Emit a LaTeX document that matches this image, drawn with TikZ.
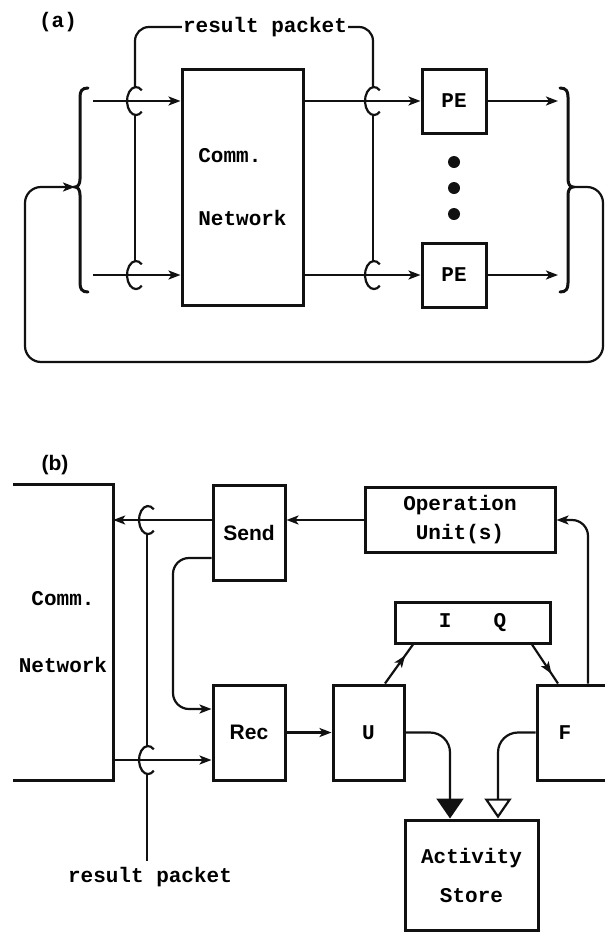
\documentclass[tikz,border=0pt]{standalone}
\usepackage{fontspec}
\setmonofont{Liberation Mono}
\setsansfont{Liberation Sans}
\usepackage{tikz}
\usetikzlibrary{arrows.meta,positioning,calc,decorations.markings}
\definecolor{ink}{HTML}{111111}

\tikzset{
  blk/.style={draw=ink,line width=3pt,inner sep=0pt},
  wire/.style={ink,line width=2.2pt},
  brace/.style={ink,line width=3pt,line cap=round},
  tip/.style={-{Stealth[length=12pt,width=9pt,inset=3pt]}},
  midtip/.style={postaction={decorate},decoration={markings,
      mark=at position #1 with {\arrow{Stealth[length=12pt,width=9pt,inset=3pt]}}}},
  sans/.style={font=\sffamily\bfseries\fontsize{21}{25}\selectfont}
}
% C-shaped jump of a wire over a line
\newcommand{\crossover}[1]{\draw[wire] ($(#1)+(6.8,-10.7)$)
  arc[start angle=50,end angle=310,x radius=9pt,y radius=14pt];}

\begin{document}
\begin{tikzpicture}[x=1pt,y=-1pt,font=\ttfamily\bfseries\fontsize{21}{25}\selectfont]
  \useasboundingbox (0,0) rectangle (605,932);

  % ---- (a) ----
  \node (la) at (58,22) {(a)};
  \node[blk,minimum width=121pt,minimum height=236pt,align=left] (net) at (242.5,187)
       {Comm.\\[38pt]Network};
  \node[blk,minimum size=64pt] (peA) at (454,101) {PE};
  \node[blk,minimum size=64pt] (peB) at (454,275) {PE};
  \foreach \y in {162,188,214} \fill[ink] (454,\y) circle[radius=6pt];

  \coordinate (inA) at (93,101);
  \coordinate (inB) at (93,275);
  \coordinate (outA) at (558,101);
  \coordinate (outB) at (558,275);
  \draw[wire,tip] (inA) -- (inA -| net.west);
  \draw[wire,tip] (inB) -- (inB -| net.west);
  \draw[wire,tip] (inA -| net.east) -- (peA.west);
  \draw[wire,tip] (inB -| net.east) -- (peB.west);
  \draw[wire,tip] (peA.east) -- (outA);
  \draw[wire,tip] (peB.east) -- (outB);

  \coordinate (hA1) at (135,101);
  \coordinate (hA2) at (135,275);
  \coordinate (hA3) at (373,101);
  \coordinate (hA4) at (373,275);
  \crossover{hA1} \crossover{hA2} \crossover{hA3} \crossover{hA4}
  \node[inner sep=1pt] (rp) at (265,27) {result packet};
  \draw[wire,rounded corners=14] (rp.west) -| ([yshift=14pt]hA1);
  \draw[wire] ([yshift=-14pt]hA1) -- ([yshift=14pt]hA2);
  \draw[wire,rounded corners=14] (rp.east) -| ([yshift=14pt]hA3);
  \draw[wire] ([yshift=-14pt]hA3) -- ([yshift=14pt]hA4);

  % braces and feedback
  \coordinate (cuspL) at (75,187);
  \coordinate (cuspR) at (573,187);
  \draw[brace] (88,88) .. controls (82,88) and (80,91) .. (80,97) -- (80,179)
    .. controls (80,184) and (78,187) .. (cuspL) .. controls (78,187) and (80,190) .. (80,195)
    -- (80,283) .. controls (80,289) and (82,292) .. (88,292);
  \draw[brace] (560,88) .. controls (566,88) and (568,91) .. (568,97) -- (568,179)
    .. controls (568,184) and (570,187) .. (cuspR) .. controls (570,187) and (568,190) .. (568,195)
    -- (568,283) .. controls (568,289) and (566,292) .. (560,292);
  \draw[wire,tip,rounded corners=16] (cuspR) -- (603,187) -- (603,362) -- (25,362)
    -- (25,187) -- (cuspL);

  % ---- (b) ----
  \node[sans] (lb) at (55,465) {(b)};
  \node[minimum width=100pt,minimum height=295pt,inner sep=0pt,align=center] (netb)
       at (63,632.5) {Comm.\\[42pt]Network};
  \draw[blk] (netb.north west) -- (netb.north east) -- (netb.south east) -- (netb.south west);
  \node[blk,sans,minimum width=72pt,minimum height=95pt] (send) at (249,532.5) {Send};
  \node[blk,sans,minimum width=72pt,minimum height=95pt] (rec) at (249,732.5) {Rec};
  \node[blk,minimum width=190pt,minimum height=65pt,align=center] (opu) at (460,520)
       {Operation\\[4pt]Unit(s)};
  \node[blk,minimum width=155pt,minimum height=41pt] (iq) at (472.5,622.5) {I\hspace{2em}Q};
  \node[blk,minimum width=71pt,minimum height=95pt] (u) at (368.5,732.5) {U};
  \node[blk,minimum width=76pt,minimum height=95pt] (f) at (575,732.5) {F\hspace*{20pt}};
  \node[blk,minimum width=133pt,minimum height=110pt,align=center] (store) at (471.5,875)
       {Activity\\[14pt]Store};

  \coordinate (sOut) at ([yshift=12.5pt]send.west);
  \coordinate (sSide) at ([yshift=-25.5pt]send.west);
  \coordinate (rSide) at ([yshift=23.5pt]rec.west);
  \coordinate (rIn) at ([yshift=-27.5pt]rec.west);
  \draw[wire,tip] (opu.west) -- (opu.west -| send.east);
  \draw[wire,tip] (sOut) -- (sOut -| netb.east);
  \draw[wire,tip] (rIn -| netb.east) -- (rIn);
  \draw[wire,tip,rounded corners=16] (sSide) -- (sSide -| 173,0) -- (rSide -| 173,0) -- (rSide);

  \coordinate (hB1) at (sOut -| 147,0);
  \coordinate (hB2) at (rIn -| 147,0);
  \crossover{hB1} \crossover{hB2}
  \node[inner sep=1pt] (rpb) at (150,877) {result packet};
  \draw[wire] ([yshift=-14pt]hB1) -- ([yshift=14pt]hB2);
  \draw[wire,shorten >=5pt] ([yshift=-14pt]hB2) -- (hB2 |- rpb.north);

  \draw[wire,tip] (rec.east) -- (u.west);
  \draw[wire,midtip=0.72] ([xshift=16.5pt]u.north) -- ([xshift=-59.5pt]iq.south);
  \draw[wire,midtip=0.75] ([xshift=59.5pt]iq.south) -- ([xshift=-17pt]f.north);
  \draw[wire,tip,rounded corners=16] ([xshift=13pt]f.north) |- (opu.east);
  \draw[wire,-{Triangle[length=20pt,width=27pt]},rounded corners=20]
       (u.east) -| ([xshift=-21.5pt]store.north);
  \draw[wire,-{Triangle[open,length=20pt,width=27pt]},rounded corners=20]
       (f.west) -| ([xshift=26.5pt]store.north);
\end{tikzpicture}
\end{document}
